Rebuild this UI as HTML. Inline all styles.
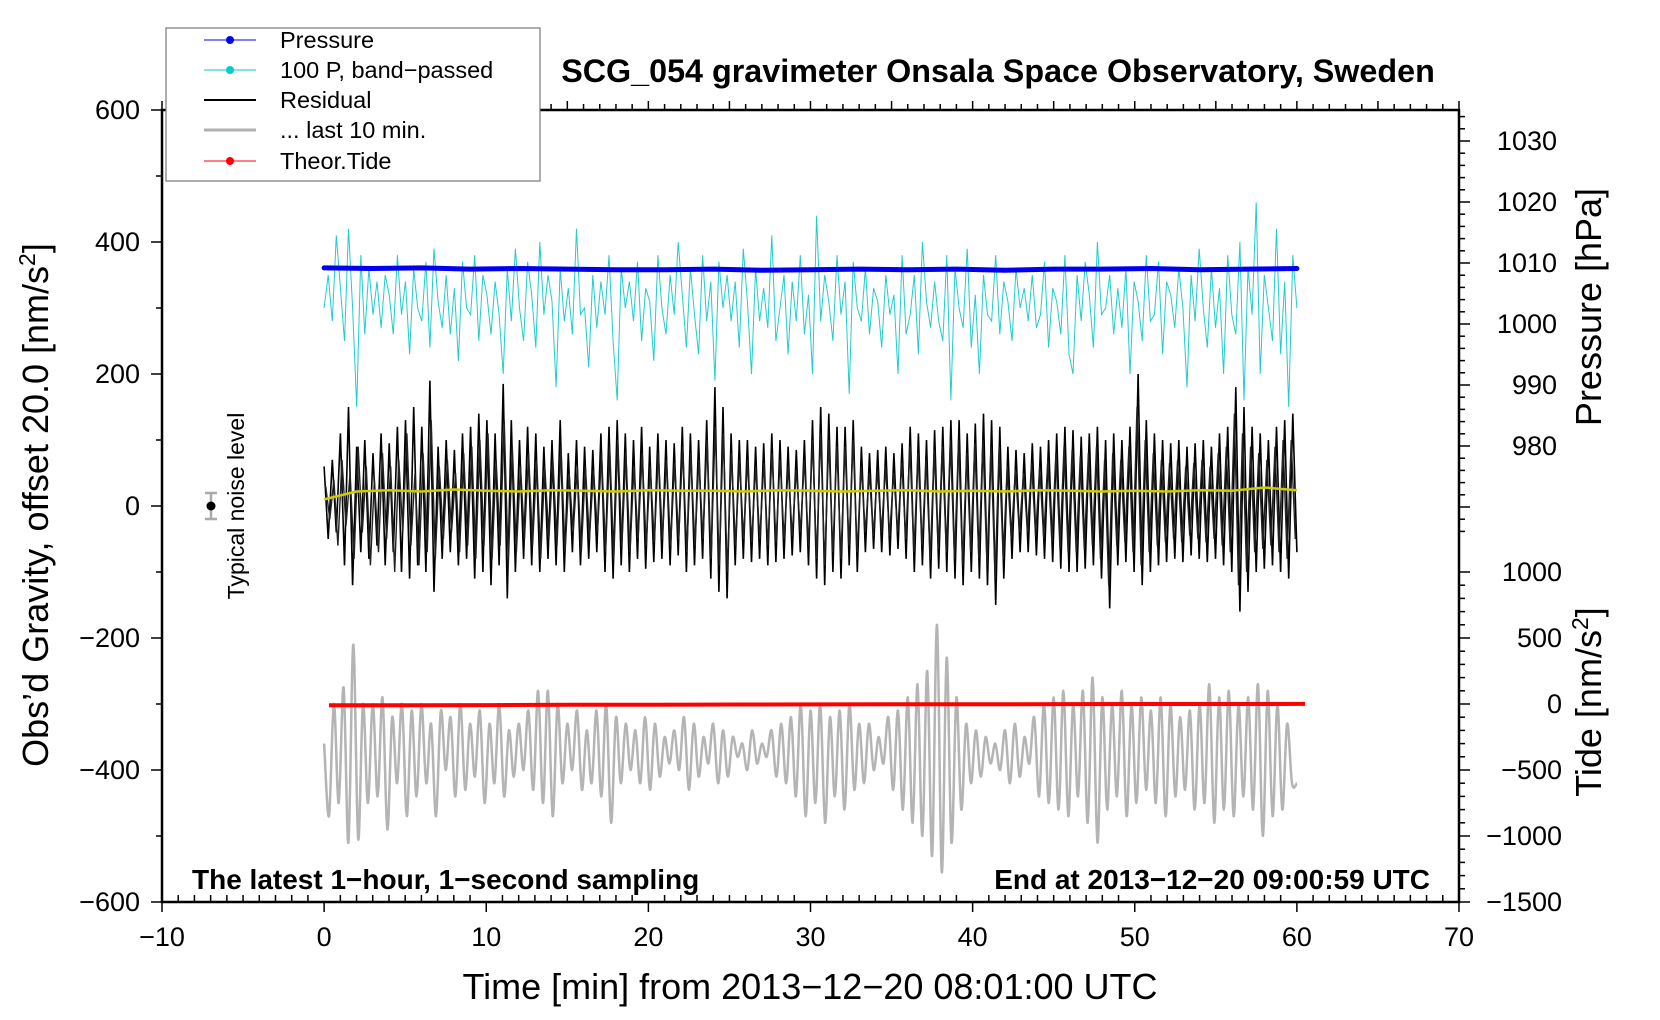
<!DOCTYPE html>
<html><head><meta charset="utf-8"><style>
html,body{margin:0;padding:0;background:#fff}
svg{display:block;font-family:"Liberation Sans",Helvetica,Arial,sans-serif}
</style></head><body>
<svg id="chart" width="1660" height="1020" viewBox="0 0 1660 1020" xmlns="http://www.w3.org/2000/svg">
<rect x="0" y="0" width="1660" height="1020" fill="#fff"/>
<g id="marks"></g>
<g id="axes"></g>
<text x="998" y="82" font-size="32.3" font-weight="bold" text-anchor="middle">SCG_054 gravimeter Onsala Space Observatory, Sweden</text>
<text x="810" y="999" font-size="36" text-anchor="middle">Time [min] from 2013−12−20 08:01:00 UTC</text>
<text transform="translate(48,505) rotate(-90)" font-size="36" text-anchor="middle">Obs’d Gravity, offset 20.0 [nm/s<tspan font-size="23" dy="-13">2</tspan><tspan dy="13">]</tspan></text>
<text transform="translate(1601,307) rotate(-90)" font-size="36" text-anchor="middle">Pressure [hPa]</text>
<text transform="translate(1601,702) rotate(-90)" font-size="36" text-anchor="middle">Tide [nm/s<tspan font-size="23" dy="-13">2</tspan><tspan dy="13">]</tspan></text>
<text x="192" y="889" font-size="28" font-weight="bold">The latest 1−hour, 1−second sampling</text>
<text x="1430" y="889" font-size="28" font-weight="bold" text-anchor="end">End at 2013−12−20 09:00:59 UTC</text>
<g>
<line x1="211" y1="493" x2="211" y2="519" stroke="#aaa" stroke-width="2.5"/>
<line x1="205" y1="493" x2="217" y2="493" stroke="#aaa" stroke-width="2.5"/>
<line x1="205" y1="519" x2="217" y2="519" stroke="#aaa" stroke-width="2.5"/>
<circle cx="211" cy="506" r="4.5" fill="#000"/>
</g>
<text transform="translate(244,506) rotate(-90)" font-size="23" text-anchor="middle">Typical noise level</text>
<g>
<rect x="166" y="28" width="374" height="153" fill="#fff" stroke="#777" stroke-width="1.2"/>
<g><line x1="204" y1="40" x2="256" y2="40" stroke="#00f" stroke-width="1"/><circle cx="230" cy="40" r="4" fill="#00f"/><text x="280" y="48" font-size="23.5">Pressure</text></g>
<g><line x1="204" y1="70" x2="256" y2="70" stroke="#0cc" stroke-width="1"/><circle cx="230" cy="70" r="4" fill="#0cc"/><text x="280" y="78" font-size="23.5">100 P, band−passed</text></g>
<g><line x1="204" y1="100" x2="256" y2="100" stroke="#000" stroke-width="2"/><text x="280" y="108" font-size="23.5">Residual</text></g>
<g><line x1="204" y1="130" x2="256" y2="130" stroke="#b0b0b0" stroke-width="3"/><text x="280" y="138" font-size="23.5">... last 10 min.</text></g>
<g><line x1="204" y1="161" x2="256" y2="161" stroke="#f00" stroke-width="1"/><circle cx="230" cy="161" r="4" fill="#f00"/><text x="280" y="169" font-size="23.5">Theor.Tide</text></g>
</g>
</svg>
<script>
// ---- data ----
const xTicks = [-10,0,10,20,30,40,50,60,70];
const gTicks = [600,400,200,0,-200,-400,-600];
const pTicks = [1030,1020,1010,1000,990,980];
const tTicks = [1000,500,0,-500,-1000,-1500];
const residual = [60,-50,70,-40,110,-90,150,-120,90,-70,100,-80,80,-60,110,-90,95,-70,120,-100,130,-110,150,-90,120,-100,190,-130,90,-80,100,-70,85,-90,110,-80,120,-110,140,-100,130,-120,110,-90,185,-140,130,-100,100,-80,120,-90,110,-100,90,-80,100,-90,130,-100,80,-70,100,-90,90,-80,85,-70,110,-100,120,-110,130,-90,110,-100,100,-80,120,-95,90,-85,110,-80,100,-90,95,-75,120,-100,110,-90,100,-80,130,-110,180,-130,150,-140,110,-90,100,-80,100,-85,90,-80,95,-90,110,-85,100,-80,90,-75,85,-70,100,-90,130,-110,150,-120,140,-100,120,-110,120,-90,130,-100,90,-70,80,-65,85,-70,90,-75,80,-65,95,-80,120,-100,110,-90,100,-110,115,-95,120,-100,130,-110,130,-120,110,-100,125,-110,140,-120,130,-150,120,-110,90,-80,85,-70,80,-70,95,-75,90,-80,100,-85,110,-95,120,-100,115,-100,105,-95,110,-90,120,-110,100,-155,110,-90,100,-85,120,-100,200,-120,130,-100,110,-90,100,-85,95,-80,100,-85,90,-75,95,-80,100,-85,90,-80,110,-90,120,-100,180,-160,150,-130,120,-100,110,-95,100,-90,120,-100,130,-110,140,-70];
const residualFine = [30,-20,40,-60,70,-30,50,-80,90,-40,60,-90,40,-70,80,-50,60,-100,70,-40,110,-60,50,-90,80,-70,130,-80,60,-50,70,-40,50,-70,80,-60,90,-80,100,-60,110,-80,70,-60,130,-90,90,-70,60,-50,80,-60,70,-80,60,-50,70,-60,90,-70,50,-40,60,-70,60,-50,55,-40,80,-70,90,-80,100,-60,80,-70,60,-50,80,-60,60,-55,80,-50,70,-60,65,-50,90,-70,80,-60,70,-50,100,-80,120,-90,110,-100,80,-60,70,-50,70,-55,60,-50,65,-60,80,-55,70,-50,60,-45,55,-40,70,-60,100,-80,110,-90,100,-70,90,-80,90,-60,100,-70,60,-40,50,-45,55,-40,60,-45,50,-40,65,-50,90,-70,80,-60,70,-80,85,-65,90,-70,100,-80,100,-90,80,-70,95,-80,100,-90,90,-110,90,-80,60,-50,55,-40,50,-40,65,-45,60,-50,70,-55,80,-65,90,-70,85,-70,75,-65,80,-60,90,-80,70,-120,80,-60,70,-55,90,-70,150,-90,100,-70,80,-60,70,-55,65,-50,70,-55,60,-45,65,-50,70,-55,60,-50,80,-60,90,-70,140,-120,110,-100,90,-70,80,-65,70,-60,90,-70,100,-80,100,-50];
const bandPassed = [300,350,280,410,330,250,420,300,150,380,260,360,290,340,270,350,320,260,380,290,340,230,360,300,280,370,240,390,310,270,350,260,330,220,370,300,290,380,250,350,320,260,340,290,200,360,280,390,300,250,370,320,240,400,290,350,310,180,360,280,330,260,420,290,300,210,350,270,340,290,380,250,160,360,300,340,280,370,250,330,310,220,380,300,260,350,290,400,320,240,360,290,230,380,280,340,190,370,300,350,280,340,240,390,310,200,360,280,330,270,410,250,300,350,230,340,280,380,260,320,200,440,280,350,310,250,380,290,340,170,370,300,280,360,260,330,310,240,350,290,320,200,380,260,290,350,230,400,310,270,340,280,250,380,160,360,300,270,390,240,320,200,350,290,280,380,260,340,310,250,360,300,330,280,350,270,290,370,240,330,310,260,380,230,200,350,280,370,320,240,400,290,300,350,260,330,270,360,200,340,310,250,380,280,290,370,230,340,320,270,360,300,180,350,280,390,300,240,360,270,330,200,380,290,260,400,160,360,290,460,200,350,300,250,420,230,340,150,380,300];
const last10 = [-360,-470,-300,-450,-275,-510,-210,-505,-300,-450,-300,-440,-290,-490,-320,-420,-300,-470,-310,-440,-300,-420,-330,-470,-310,-400,-320,-440,-300,-430,-330,-410,-310,-450,-330,-420,-300,-440,-340,-410,-330,-400,-310,-430,-280,-450,-280,-470,-300,-420,-330,-400,-310,-430,-340,-420,-310,-440,-300,-480,-320,-420,-330,-400,-340,-420,-320,-430,-330,-410,-350,-390,-340,-400,-320,-430,-330,-410,-350,-390,-330,-420,-340,-410,-350,-380,-360,-400,-340,-390,-360,-380,-340,-410,-330,-420,-320,-440,-300,-470,-310,-450,-300,-480,-320,-440,-310,-460,-300,-430,-330,-420,-330,-400,-350,-390,-320,-430,-310,-460,-290,-480,-270,-500,-250,-530,-180,-555,-230,-510,-290,-460,-330,-420,-340,-410,-350,-390,-360,-400,-340,-420,-330,-410,-350,-390,-320,-440,-300,-450,-290,-460,-280,-470,-300,-440,-280,-480,-260,-510,-290,-460,-300,-440,-280,-470,-300,-450,-290,-430,-310,-450,-290,-470,-300,-440,-320,-430,-310,-460,-300,-450,-270,-480,-290,-460,-280,-470,-300,-440,-290,-460,-270,-500,-280,-470,-300,-460,-330,-420,-420];
const pressure = [1009.2,1009.1,1009.2,1009.0,1009.1,1009.0,1008.9,1008.9,1009.0,1008.8,1008.9,1009.0,1008.9,1009.0,1008.8,1009.0,1009.0,1009.1,1008.9,1009.0,1009.1];
const smoothResid = [10,22,24,22,25,23,22,24,23,22,24,23,23,22,24,23,22,23,24,22,23,22,24,23,22,23,22,24,23,28,24];
const tide = [-10,-9,-8,-6,-5,-4,-3,-2,-2,-1,0,0,1];
// ---- scales ----
const X0=162,X1=1459,Y0=110,Y1=902;
const xs = t => X0 + (t+10)/80*(X1-X0);
const yg = v => 506 - v*(Y1-Y0)/1200;
const yp = p => 141 + (1030-p)*6.1;
const yt = v => 704 - v*66/500;
const NS='http://www.w3.org/2000/svg';
const marks=document.getElementById('marks');
const axes=document.getElementById('axes');
function mk(tag,attrs,parent){const e=document.createElementNS(NS,tag);for(const k in attrs)e.setAttribute(k,attrs[k]);parent.appendChild(e);return e;}
function series(arr,t0,t1,fx){return arr.map((v,i)=>[xs(t0+(t1-t0)*i/(arr.length-1)),fx(v)]);}
function poly(pts){return pts.map((p,i)=>(i?'L':'M')+p[0].toFixed(1)+','+p[1].toFixed(1)).join('');}
function smooth(pts){let d='M'+pts[0][0]+','+pts[0][1];for(let i=0;i<pts.length-1;i++){const p0=pts[Math.max(0,i-1)],p1=pts[i],p2=pts[i+1],p3=pts[Math.min(pts.length-1,i+2)];const c1=[p1[0]+(p2[0]-p0[0])/6,p1[1]+(p2[1]-p0[1])/6],c2=[p2[0]-(p3[0]-p1[0])/6,p2[1]-(p3[1]-p1[1])/6];d+='C'+c1[0].toFixed(1)+','+c1[1].toFixed(1)+' '+c2[0].toFixed(1)+','+c2[1].toFixed(1)+' '+p2[0].toFixed(1)+','+p2[1].toFixed(1);}return d;}
// cyan band-passed
let e=mk('path',{d:poly(series(bandPassed,0,60,yg)),fill:'none',stroke:'#22cccc','stroke-width':1},marks);


// pressure
e=mk('path',{d:poly(series(pressure,0,60,yp)),fill:'none',stroke:'#0000ee','stroke-width':5,'stroke-linecap':'round'},marks);


// residual
e=mk('path',{d:poly(series(residual,0,60,yg)),fill:'none',stroke:'#000','stroke-width':1.6},marks);


e=mk('path',{d:poly(series(residualFine,0.1,59.9,yg)),fill:'none',stroke:'#222','stroke-width':1.4},marks);


// smoothed residual (yellow)
e=mk('path',{d:poly(series(smoothResid,0,60,yg)),fill:'none',stroke:'#cccc00','stroke-width':2.5},marks);


// gray last 10
e=mk('path',{d:smooth(series(last10,0,60,yg)),fill:'none',stroke:'#b4b4b4','stroke-width':2.5},marks);


// tide
e=mk('path',{d:poly(series(tide,0.3,60.5,yt)),fill:'none',stroke:'#ff0000','stroke-width':4},marks);


// ---- axes ----
e=mk('rect',{x:X0,y:Y0,width:X1-X0,height:Y1-Y0,fill:'none',stroke:'#000','stroke-width':2.5},axes);


for(let t=-10;t<=70;t++){const x=xs(t);const maj=t%10===0;mk('line',{x1:x,y1:Y1,x2:x,y2:Y1-(maj?0:7),stroke:'#000','stroke-width':1.5},axes);mk('line',{x1:x,y1:Y0,x2:x,y2:Y0-(t%5===0?9:6),stroke:'#000','stroke-width':1.5},axes);if(maj)mk('line',{x1:x,y1:Y1,x2:x,y2:Y1+10,stroke:'#000','stroke-width':1.5},axes);}
xTicks.forEach(t=>{const el=mk('text',{x:xs(t),y:946,'font-size':27,'text-anchor':'middle'},axes);el.textContent=String(t).replace('-','−');

});
for(let v=-600;v<=600;v+=100){const y=yg(v);mk('line',{x1:X0,y1:y,x2:X0-(v%200===0?11:6),y2:y,stroke:'#000','stroke-width':1.5},axes);}
gTicks.forEach(v=>{const el=mk('text',{x:140,y:yg(v)+9,'font-size':27,'text-anchor':'end'},axes);el.textContent=String(v).replace('-','−');

});
for(let p=966;p<=1034;p+=2){const y=yp(p);if(y<Y0||y>Y1)continue;mk('line',{x1:X1,y1:y,x2:X1+(p%10===0?11:6),y2:y,stroke:'#000','stroke-width':1.5},axes);}
pTicks.forEach(p=>{const el=mk('text',{x:1557,y:yp(p)+9,'font-size':27,'text-anchor':'end'},axes);el.textContent=p;

});
for(let v=-1500;v<=1000;v+=100){const y=yt(v);mk('line',{x1:X1,y1:y,x2:X1+(v%500===0?11:6),y2:y,stroke:'#000','stroke-width':1.5},axes);}
tTicks.forEach(v=>{const el=mk('text',{x:1562,y:yt(v)+9,'font-size':27,'text-anchor':'end'},axes);el.textContent=String(v).replace('-','−');

});
</script>
</body></html>
